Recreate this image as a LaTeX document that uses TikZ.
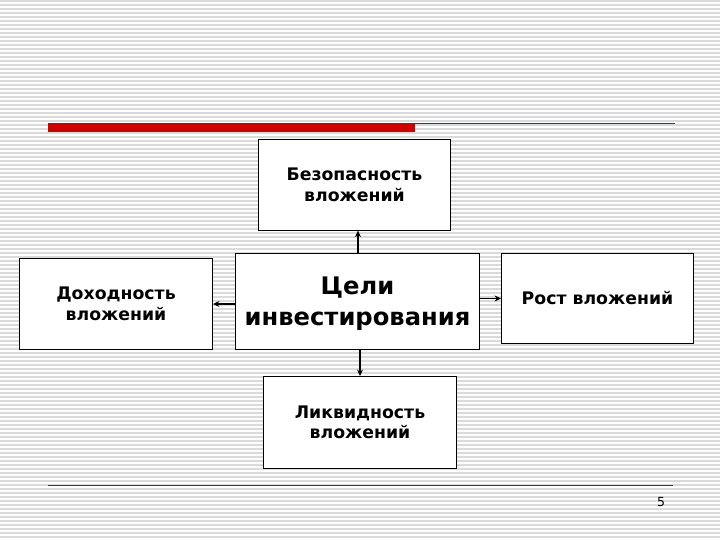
\documentclass[tikz,border=0pt]{standalone}
\usepackage{fontspec}
\setmainfont{DejaVu Sans}
\usetikzlibrary{arrows.meta}
\definecolor{stripe}{RGB}{218,218,218}
\definecolor{barred}{RGB}{204,0,0}
\definecolor{linered}{RGB}{150,20,20}
\tikzset{
  box/.style={draw=black, line width=0.9pt, fill=white, inner sep=0pt, align=center, font=\bfseries\fontsize{17.3}{20.5}\selectfont},
  conn/.style={line width=1.2pt, -{Stealth[length=6.5pt,width=6pt]}}
}
\begin{document}
\begin{tikzpicture}[x=1pt,y=-1pt]
\useasboundingbox (0,0) rectangle (720,540);
\fill[white] (0,0) rectangle (720,540);
\foreach \k in {0,...,134} {
  \fill[stripe] (0,{4*\k}) rectangle (720,{4*\k+1.6});
}
% header decoration
\fill[barred] (48,123) rectangle (415,132);
\draw[linered, line width=1pt] (415,123.3) -- (675,123.3);
% footer line
\draw[linered, line width=1pt] (48,485) -- (673,485);
\node[font=\fontsize{12.5}{14}\selectfont] (pg) at (661,502) {5};
% boxes
\node[box, minimum width=192pt, minimum height=91pt] (top) at (354.5,184.7) {Безопасность\\вложений};
\node[box, minimum width=193pt, minimum height=91pt] (left) at (116,303.7) {Доходность\\вложений};
\node[box, minimum width=244pt, minimum height=96pt] (center) at (357.5,301.3) {};
\node[align=center, inner sep=0pt, font=\bfseries\fontsize{24.2}{31}\selectfont] (centertext) at (357.5,304) {Цели\\инвестирования};
\node[box, minimum width=192pt, minimum height=90pt] (right) at (597.5,298.3) {Рост вложений};
\node[box, minimum width=193pt, minimum height=92pt] (bottom) at (360,422.5) {Ликвидность\\вложений};
% connectors
\draw[conn] (center.north -| top.south) ++(3.5,0) coordinate (c1) -- (c1 |- top.south);
\draw[conn] (center.south) ++(2.5,0) coordinate (c2) -- (c2 |- bottom.north);
\draw[conn] (center.west |- 0,304) coordinate (c3) -- (c3 -| left.east);
\draw[conn] (center.east |- 0,298.5) coordinate (c4) -- (c4 -| right.west);
\end{tikzpicture}
\end{document}
